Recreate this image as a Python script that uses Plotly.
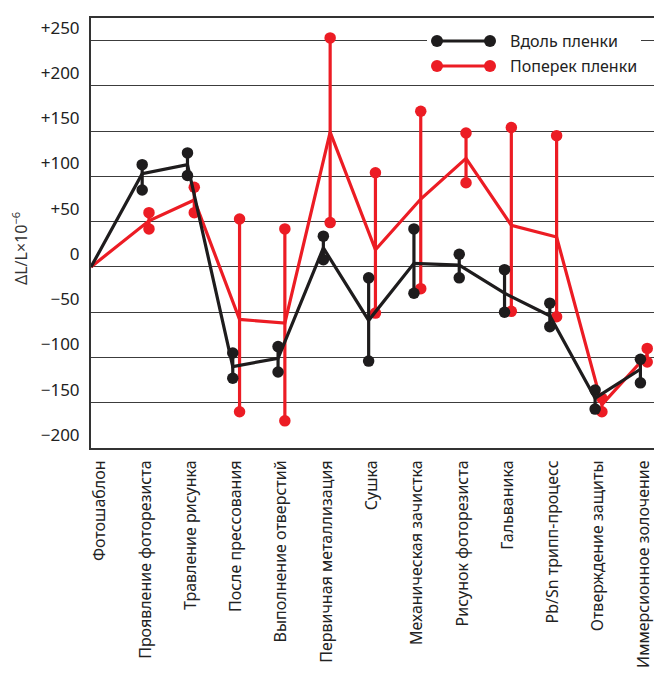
import plotly.graph_objects as go

categories = [
    "Фотошаблон",
    "Проявление фоторезиста",
    "Травление рисунка",
    "После прессования",
    "Выполнение отверстий",
    "Первичная металлизация",
    "Сушка",
    "Механическая зачистка",
    "Рисунок фоторезиста",
    "Гальваника",
    "Pb/Sn трипп-процесс",
    "Отверждение защиты",
    "Иммерсионное золочение",
]

# Вдоль пленки (black)
black_mid = [0, 103, 113, -110, -101, 21, -59, 4, 2, -29, -54, -145, -113]
black_lo = [None, 85, 101, -123, -116, 8, -104, -29, -12, -50, -66, -157, -128]
black_hi = [None, 113, 126, -95, -88, 34, -12, 42, 14, -3, -40, -136, -102]

# Поперек пленки (red)
red_mid = [0, 51, 74, -58, -62, 149, 19, 75, 120, 46, 33, -152, -97]
red_lo = [None, 42, 60, -160, -170, 49, -51, -24, 93, -49, -55, -160, -105]
red_hi = [None, 60, 88, 53, 42, 253, 104, 172, 148, 154, 145, -145, -90]

series_names = ["Вдоль пленки", "Поперек пленки"]

y_tickvals = [-200, -150, -100, -50, 0, 50, 100, 150, 200, 250]
y_ticktext = ["−200", "−150", "−100", "−50", "0", "+50", "+100", "+150", "+200", "+250"]

BLACK = "#1e1c1d"
RED = "#ec1c24"
FONT = "Noto Sans"

X_MIN, X_MAX = -0.2, 12.23
Y_MIN, Y_MAX = -200, 275


def xpos(i, off):
    # the first stage is the origin and sits on the y axis
    return X_MIN if i == 0 else i + off


def center_trace(mid, color, off):
    xs = [xpos(i, off) for i in range(len(mid))]
    return go.Scatter(x=xs, y=mid, mode="lines",
                      line=dict(color=color, width=3.2),
                      showlegend=False, hoverinfo="skip", cliponaxis=False)


def range_trace(lo, hi, color, off):
    xs, ys = [], []
    for i, (a, b) in enumerate(zip(lo, hi)):
        if a is None or b is None:
            continue
        x = xpos(i, off)
        xs += [x, x, None]
        ys += [a, b, None]
    return go.Scatter(x=xs, y=ys, mode="lines+markers",
                      line=dict(color=color, width=3.2),
                      marker=dict(color=color, size=11.5, line=dict(width=0)),
                      showlegend=False, hoverinfo="skip", cliponaxis=False)


fig = go.Figure()
fig.add_trace(range_trace(red_lo, red_hi, RED, 0.08))
fig.add_trace(center_trace(red_mid, RED, 0.08))
fig.add_trace(range_trace(black_lo, black_hi, BLACK, -0.07))
fig.add_trace(center_trace(black_mid, BLACK, -0.07))

W, H = 654, 676
ML, MR, MT, MB = 91, 0, 18, 228
PW, PH = W - ML - MR, H - MT - MB


def px(xp):
    return (xp - ML) / PW


def py(yp):
    return (H - MB - yp) / PH


shapes = []
annotations = []
# legend background (hides the top gridline behind it)
shapes.append(dict(type="rect", xref="paper", yref="paper",
                   x0=px(427), x1=px(641), y0=py(80), y1=py(30),
                   fillcolor="white", line=dict(width=0), layer="above"))
for k, (name, color, yy) in enumerate([(series_names[0], BLACK, 41), (series_names[1], RED, 66)]):
    shapes.append(dict(type="line", xref="paper", yref="paper",
                       x0=px(437), x1=px(490), y0=py(yy), y1=py(yy),
                       line=dict(color=color, width=3.2), layer="above"))
    for cx in (437, 490):
        shapes.append(dict(type="circle", xref="paper", yref="paper",
                           x0=px(cx - 6), x1=px(cx + 6), y0=py(yy + 6), y1=py(yy - 6),
                           fillcolor=color, line=dict(width=0), layer="above"))
    annotations.append(dict(xref="paper", yref="paper", x=px(508), y=py(yy),
                            xanchor="left", yanchor="middle", showarrow=False,
                            text=name, font=dict(family=FONT, size=16, color="#222")))

annotations.append(dict(xref="paper", yref="paper", x=px(20), y=py(249),
                        xanchor="center", yanchor="middle", showarrow=False,
                        textangle=-90, text="ΔL/L×10<sup>−6</sup>",
                        font=dict(family=FONT, size=16, color="#333")))

fig.update_layout(
    width=W, height=H,
    margin=dict(l=ML, r=MR, t=MT, b=MB, pad=0, autoexpand=False),
    paper_bgcolor="white", plot_bgcolor="white",
    showlegend=False,
    shapes=shapes, annotations=annotations,
    xaxis=dict(range=[X_MIN, X_MAX], tickmode="array",
               tickvals=list(range(len(categories))), ticktext=categories,
               tickangle=-90, showgrid=False, zeroline=False, automargin=False,
               showline=True, mirror=True, linecolor="#333", linewidth=2,
               ticks="", ticklabelstandoff=4,
               tickfont=dict(family=FONT, size=16, color="#222")),
    yaxis=dict(range=[Y_MIN, Y_MAX], tickmode="array",
               tickvals=y_tickvals, ticktext=y_ticktext, automargin=False,
               showgrid=True, gridcolor="#3c3c3c", gridwidth=1.3,
               zeroline=False, showline=True, linecolor="#333", linewidth=2,
               ticks="", ticklabelstandoff=6, ticklabelshift=-13,
               tickfont=dict(family=FONT, size=17, color="#222")),
)

fig.write_html("out.html", config={"displayModeBar": False},
               post_script="document.body.style.margin='0';document.body.style.padding='0';")
